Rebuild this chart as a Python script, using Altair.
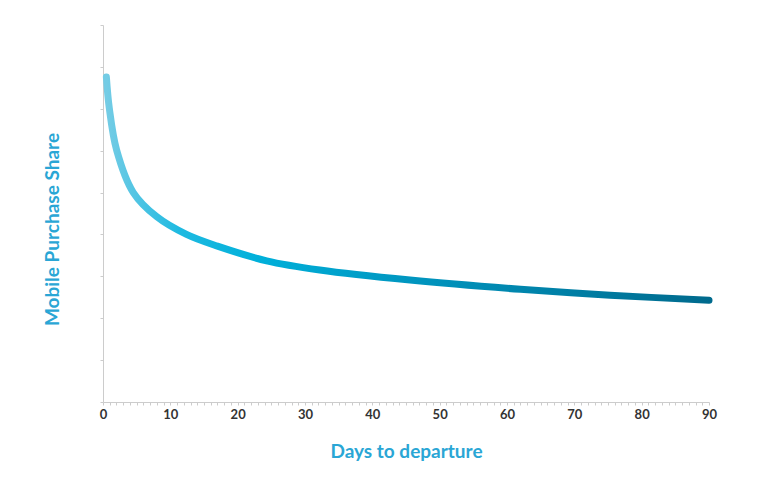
import altair as alt
import pandas as pd

# Values
days = [0.5, 0.94, 2.03, 4.5, 8.0, 12.4, 17.0, 24.3, 32.2, 45.6, 62.0, 75.3, 90.0]
share = [7.76, 7.01, 6.01, 5.00, 4.42, 4.00, 3.72, 3.37, 3.15, 2.91, 2.69, 2.55, 2.43]

x_ticks = list(range(0, 91))
y_ticks = list(range(0, 10))

df = pd.DataFrame({"days": days, "share": share})

grad = alt.Gradient(
    gradient="linear",
    stops=[
        alt.GradientStop(color="#74cce5", offset=0.0),
        alt.GradientStop(color="#1fbae1", offset=0.12),
        alt.GradientStop(color="#00b0da", offset=0.25),
        alt.GradientStop(color="#0096c0", offset=0.5),
        alt.GradientStop(color="#007ca2", offset=0.8),
        alt.GradientStop(color="#006a8d", offset=1.0),
    ],
    x1=0, x2=1, y1=0, y2=0,
)

font = "Lato"
title_color = "#2aa6d5"

chart = alt.Chart(df).mark_line(
    color=grad, strokeWidth=7, strokeCap="round", interpolate="catmull-rom"
).encode(
    x=alt.X(
        "days:Q",
        scale=alt.Scale(domain=[0, 90], nice=False),
        axis=alt.Axis(
            values=x_ticks,
            labelExpr="datum.value % 10 == 0 ? datum.label : ''",
            title="Days to departure",
            titleFont=font, titleFontSize=19, titleFontWeight="bold", titleColor=title_color,
            titleY=49, titleBaseline="middle",
            labelFont=font, labelFontSize=13, labelFontWeight="bold", labelColor="#333333",
            labelPadding=3, labelOverlap=False, labelFlush=False,
            domainColor="#cccccc", tickColor="#cccccc", tickSize=3, grid=False,
        ),
    ),
    y=alt.Y(
        "share:Q",
        scale=alt.Scale(domain=[0, 9], nice=False),
        axis=alt.Axis(
            values=y_ticks,
            labels=False,
            title="Mobile Purchase Share",
            titleFont=font, titleFontSize=19, titleFontWeight="bold", titleColor=title_color,
            titleX=-51, titleY=204, titleAngle=270, titleAlign="center", titleBaseline="middle",
            domainColor="#cccccc", tickColor="#cccccc", tickSize=3, grid=False,
        ),
    ),
).properties(
    width=606,
    height=377,
    autosize=alt.AutoSizeParams(type="none"),
    padding={"left": 95, "top": 17, "right": 50, "bottom": 79},
).configure_view(stroke=None)

chart.save("out.html", embed_options={"renderer": "svg", "actions": False})
